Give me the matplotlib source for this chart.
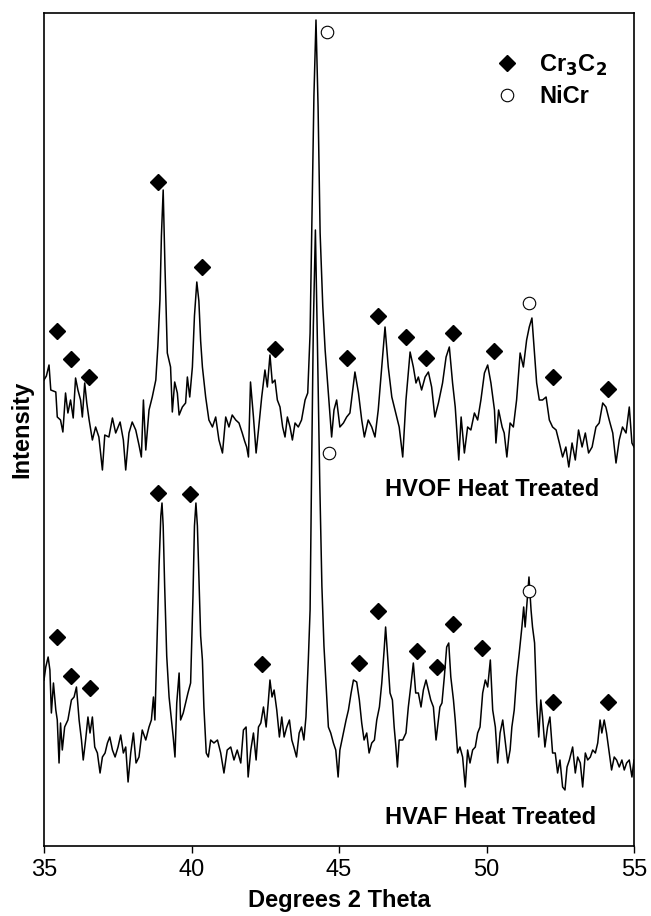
import matplotlib
matplotlib.use("Agg")
import matplotlib.pyplot as plt
from matplotlib.lines import Line2D

plt.rcParams['font.family'] = ['Liberation Sans', 'DejaVu Sans']

# HVOF heat treated trace (degrees 2 theta, arbitrary intensity)
hvof_x = [35.0, 35.08, 35.17, 35.23, 35.4, 35.45, 35.56, 35.64, 35.73, 35.81, 35.9, 35.99,
          36.07, 36.15, 36.24, 36.3, 36.38, 36.45, 36.53, 36.64, 36.75, 36.86, 36.98, 37.06,
          37.2, 37.32, 37.43, 37.58, 37.69, 37.77, 37.88, 37.99, 38.11, 38.22, 38.3, 38.37,
          38.45, 38.56, 38.67, 38.79, 38.86, 38.93, 38.98, 39.04, 39.1, 39.18, 39.29, 39.35,
          39.43, 39.52, 39.58, 39.69, 39.8, 39.86, 39.94, 40.03, 40.1, 40.18, 40.25, 40.31,
          40.37, 40.48, 40.59, 40.71, 40.82, 40.93, 41.05, 41.16, 41.27, 41.38, 41.5, 41.61,
          41.72, 41.8, 41.87, 41.93, 42.0, 42.1, 42.19, 42.27, 42.38, 42.49, 42.57, 42.66,
          42.74, 42.83, 42.91, 43.0, 43.09, 43.17, 43.25, 43.34, 43.42, 43.51, 43.62, 43.73,
          43.85, 43.94, 44.02, 44.08, 44.15, 44.22, 44.29, 44.36, 44.45, 44.53, 44.64, 44.75,
          44.83, 44.92, 45.03, 45.15, 45.26, 45.37, 45.54, 45.66, 45.77, 45.86, 45.99, 46.11,
          46.22, 46.33, 46.45, 46.56, 46.67, 46.79, 46.9, 47.04, 47.16, 47.27, 47.41, 47.52,
          47.61, 47.69, 47.8, 47.92, 48.03, 48.14, 48.25, 48.37, 48.51, 48.63, 48.74, 48.85,
          48.94, 49.06, 49.14, 49.25, 49.36, 49.47, 49.59, 49.7, 49.81, 49.93, 50.04, 50.15,
          50.27, 50.32, 50.41, 50.53, 50.6, 50.69, 50.8, 50.91, 51.02, 51.14, 51.25, 51.36,
          51.45, 51.54, 51.62, 51.7, 51.79, 51.9, 52.02, 52.13, 52.24, 52.36, 52.47, 52.58,
          52.69, 52.79, 52.9, 53.01, 53.12, 53.24, 53.35, 53.46, 53.58, 53.71, 53.82, 53.94,
          54.05, 54.16, 54.28, 54.39, 54.5, 54.61, 54.73, 54.84, 54.93, 55.0]
hvof_y = [466, 470, 481, 456, 454, 429, 426, 414, 453, 433, 446, 428,
          468, 456, 446, 429, 463, 443, 426, 406, 419, 409, 376, 411,
          409, 428, 413, 424, 406, 376, 413, 424, 416, 401, 389, 446,
          396, 436, 449, 466, 500, 546, 610, 656, 580, 493, 479, 434,
          464, 453, 431, 439, 443, 469, 449, 479, 530, 564, 545, 505,
          479, 449, 426, 419, 429, 406, 393, 429, 419, 431, 426, 423,
          413, 405, 399, 389, 464, 429, 393, 416, 449, 476, 459, 491,
          463, 466, 446, 439, 419, 409, 429, 419, 406, 423, 419, 426,
          446, 453, 513, 620, 750, 826, 740, 613, 540, 496, 453, 409,
          436, 446, 419, 423, 429, 433, 474, 453, 426, 409, 426, 419,
          409, 436, 479, 519, 479, 449, 436, 419, 389, 446, 494, 479,
          463, 469, 456, 469, 474, 459, 429, 443, 463, 489, 499, 463,
          439, 386, 429, 393, 419, 416, 433, 426, 446, 473, 481, 463,
          436, 403, 436, 419, 413, 389, 423, 419, 446, 493, 479, 506,
          519, 528, 496, 463, 446, 446, 449, 426, 419, 416, 403, 389,
          399, 379, 403, 386, 416, 399, 413, 393, 399, 419, 423, 443,
          439, 426, 413, 383, 406, 419, 413, 439, 403, 399]

# HVAF heat treated trace
hvaf_x = [35.0, 35.06, 35.14, 35.2, 35.25, 35.32, 35.4, 35.45, 35.51, 35.56, 35.62, 35.7,
          35.81, 35.93, 36.02, 36.1, 36.19, 36.27, 36.33, 36.41, 36.49, 36.56, 36.64, 36.72,
          36.81, 36.9, 36.98, 37.07, 37.15, 37.23, 37.32, 37.41, 37.51, 37.6, 37.69, 37.77,
          37.85, 37.94, 38.03, 38.12, 38.22, 38.33, 38.45, 38.56, 38.64, 38.71, 38.76, 38.82,
          38.9, 38.96, 39.0, 39.04, 39.09, 39.16, 39.24, 39.32, 39.38, 39.44, 39.5, 39.58,
          39.63, 39.72, 39.8, 39.88, 39.97, 40.05, 40.1, 40.15, 40.2, 40.26, 40.31, 40.37,
          40.42, 40.5, 40.57, 40.65, 40.76, 40.88, 40.99, 41.1, 41.21, 41.33, 41.44, 41.55,
          41.67, 41.76, 41.85, 41.92, 42.01, 42.1, 42.19, 42.27, 42.35, 42.44, 42.53, 42.6,
          42.66, 42.73, 42.8, 42.89, 42.98, 43.06, 43.14, 43.23, 43.32, 43.4, 43.47, 43.56,
          43.65, 43.73, 43.81, 43.88, 43.96, 44.02, 44.07, 44.13, 44.2, 44.27, 44.35, 44.42,
          44.49, 44.56, 44.64, 44.72, 44.81, 44.89, 44.97, 45.03, 45.15, 45.24, 45.32, 45.41,
          45.49, 45.6, 45.69, 45.77, 45.85, 45.94, 46.02, 46.11, 46.2, 46.28, 46.37, 46.45,
          46.53, 46.58, 46.65, 46.73, 46.81, 46.87, 46.93, 46.98, 47.04, 47.16, 47.27, 47.35,
          47.43, 47.52, 47.6, 47.69, 47.78, 47.86, 47.95, 48.03, 48.11, 48.2, 48.29, 48.34,
          48.42, 48.49, 48.57, 48.65, 48.72, 48.79, 48.88, 48.94, 49.02, 49.1, 49.19, 49.28,
          49.36, 49.44, 49.53, 49.62, 49.7, 49.78, 49.87, 49.96, 50.04, 50.13, 50.21, 50.3,
          50.38, 50.46, 50.55, 50.63, 50.72, 50.8, 50.86, 50.94, 51.02, 51.11, 51.2, 51.26,
          51.31, 51.4, 51.44, 51.51, 51.56, 51.63, 51.7, 51.77, 51.84, 51.9, 51.98, 52.07,
          52.15, 52.24, 52.33, 52.41, 52.49, 52.58, 52.66, 52.73, 52.81, 52.92, 53.01, 53.09,
          53.18, 53.26, 53.35, 53.43, 53.52, 53.6, 53.69, 53.77, 53.85, 53.91, 53.99, 54.07,
          54.16, 54.24, 54.33, 54.41, 54.5, 54.59, 54.67, 54.75, 54.84, 54.93, 55.0]
hvaf_y = [166, 179, 189, 176, 133, 163, 136, 126, 83, 123, 96, 119,
          126, 146, 149, 159, 126, 106, 86, 106, 129, 113, 129, 99,
          93, 73, 89, 93, 103, 109, 96, 89, 99, 111, 93, 99,
          64, 93, 113, 83, 89, 116, 106, 119, 126, 149, 126, 193,
          280, 330, 343, 320, 260, 190, 149, 126, 109, 89, 143, 173,
          126, 133, 143, 153, 163, 250, 320, 343, 320, 260, 210, 186,
          139, 93, 89, 106, 103, 106, 93, 73, 96, 99, 86, 96,
          83, 116, 119, 69, 96, 113, 86, 119, 123, 139, 119, 143,
          166, 149, 156, 136, 109, 129, 109, 119, 126, 106, 99, 89,
          113, 119, 106, 129, 186, 236, 373, 520, 616, 500, 360, 260,
          200, 163, 119, 113, 103, 96, 69, 96, 113, 126, 136, 153,
          166, 164, 146, 123, 106, 113, 93, 103, 106, 126, 139, 163,
          196, 219, 189, 153, 146, 119, 99, 79, 106, 106, 113, 139,
          159, 183, 153, 153, 139, 156, 166, 156, 146, 139, 106, 119,
          139, 143, 169, 199, 203, 169, 146, 126, 93, 99, 89, 59,
          96, 83, 96, 99, 113, 119, 153, 166, 159, 186, 136, 119,
          83, 113, 126, 106, 83, 96, 119, 136, 169, 193, 219, 239,
          219, 253, 269, 236, 219, 203, 143, 109, 146, 129, 99, 119,
          129, 93, 93, 73, 86, 59, 56, 79, 86, 99, 73, 89,
          83, 59, 93, 86, 89, 96, 93, 103, 126, 113, 126, 113,
          93, 76, 89, 86, 79, 86, 76, 83, 86, 69, 86]

# phase markers
hvof_cr_x = [35.43, 35.9, 36.54, 38.88, 40.37, 42.83, 45.26, 46.33, 47.27, 47.95, 48.85, 50.25, 52.24, 54.13]
hvof_cr_y = [515, 487, 469, 664, 579, 497, 488, 530, 509, 488, 513, 495, 469, 457]
hvof_ni_x = [44.6, 51.45]
hvof_ni_y = [814, 543]

hvaf_cr_x = [35.43, 35.9, 36.56, 38.88, 39.95, 42.38, 45.69, 46.31, 47.65, 48.33, 48.85, 49.84, 52.24, 54.13]
hvaf_cr_y = [209, 170, 158, 353, 352, 182, 183, 235, 195, 179, 222, 198, 144, 144]
hvaf_ni_x = [44.67, 51.45]
hvaf_ni_y = [393, 255]

fig = plt.figure(figsize=(6.51, 9.16), dpi=100)
ax = fig.add_axes([44/651, 70/916, 590/651, 833/916])

ax.plot(hvof_x, hvof_y, color='black', lw=1.1)
ax.plot(hvaf_x, hvaf_y, color='black', lw=1.1)

dkw = dict(ls='none', marker='D', ms=8.5, color='black')
ckw = dict(ls='none', marker='o', ms=9, mfc='white', mec='black', mew=0.8)
ax.plot(hvof_cr_x, hvof_cr_y, **dkw)
ax.plot(hvaf_cr_x, hvaf_cr_y, **dkw)
ax.plot(hvof_ni_x, hvof_ni_y, **ckw)
ax.plot(hvaf_ni_x, hvaf_ni_y, **ckw)

ax.text(46.56, 357, 'HVOF Heat Treated', fontsize=17, fontweight='bold', va='center', ha='left')
ax.text(46.56, 29, 'HVAF Heat Treated', fontsize=17, fontweight='bold', va='center', ha='left')

handles = [Line2D([], [], **dkw), Line2D([], [], **ckw)]
leg = ax.legend(handles, ['Cr$_\\mathbf{3}$C$_\\mathbf{2}$', 'NiCr'], loc='upper left',
                bbox_to_anchor=(0.725, 0.978), frameon=False, handlelength=1.2,
                handletextpad=0.75, labelspacing=0.3, prop={'size': 17, 'weight': 'bold'})

ax.set_xlim(35, 55)
ax.set_ylim(0, 833)
ax.set_xticks([35, 40, 45, 50, 55])
ax.set_yticks([])
ax.tick_params(axis='x', direction='out', length=5, width=1, labelsize=17, pad=4)
for s in ax.spines.values():
    s.set_linewidth(1.2)

ax.set_xlabel('Degrees 2 Theta', fontsize=17, fontweight='bold', labelpad=6)
ax.set_ylabel('Intensity', fontsize=17, fontweight='bold', labelpad=8)

fig.savefig('out.png', dpi=100)
